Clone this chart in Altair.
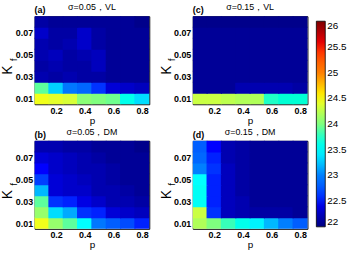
import altair as alt
import pandas as pd

P = [0.1, 0.2, 0.3, 0.4, 0.5, 0.6, 0.7, 0.8]
KF = [0.01, 0.02, 0.03, 0.04, 0.05, 0.06, 0.07, 0.08]

# (a) sigma=0.05, VL   rows: Kf = 0.01 ... 0.08, columns: p = 0.1 ... 0.8
a_k01 = [24.45, 24.4, 24.35, 24.05, 24.0, 23.95, 23.6, 23.35]
a_k02 = [23.9, 23.3, 22.95, 22.85, 22.6, 22.35, 22.3, 22.25]
a_k03 = [22.2, 22.15, 22.2, 22.15, 22.15, 22.1, 22.1, 22.1]
a_k04 = [22.15, 22.2, 22.15, 22.15, 22.25, 22.1, 22.1, 22.1]
a_k05 = [22.2, 22.25, 22.15, 22.2, 22.25, 22.1, 22.1, 22.1]
a_k06 = [22.2, 22.15, 22.2, 22.3, 22.15, 22.1, 22.1, 22.1]
a_k07 = [22.3, 22.15, 22.15, 22.3, 22.15, 22.1, 22.1, 22.1]
a_k08 = [22.15, 22.1, 22.1, 22.1, 22.1, 22.1, 22.1, 22.05]

# (b) sigma=0.05, DM
b_k01 = [24.45, 24.1, 23.9, 23.5, 22.95, 22.8, 22.7, 22.55]
b_k02 = [24.1, 23.35, 23.15, 22.6, 22.55, 22.35, 22.3, 22.25]
b_k03 = [23.9, 22.6, 22.55, 22.4, 22.3, 22.2, 22.2, 22.15]
b_k04 = [23.2, 22.35, 22.3, 22.3, 22.2, 22.2, 22.15, 22.1]
b_k05 = [22.65, 22.35, 22.3, 22.25, 22.2, 22.15, 22.1, 22.1]
b_k06 = [22.5, 22.3, 22.25, 22.2, 22.2, 22.15, 22.1, 22.1]
b_k07 = [22.35, 22.3, 22.25, 22.2, 22.15, 22.1, 22.1, 22.1]
b_k08 = [22.2, 22.2, 22.15, 22.15, 22.1, 22.1, 22.1, 22.05]

# (c) sigma=0.15, VL
c_k01 = [24.3, 24.3, 24.25, 24.2, 24.2, 23.75, 23.7, 23.7]
c_k02 = [22.1, 22.1, 22.1, 22.2, 22.2, 22.2, 22.2, 22.15]
c_k03 = [22.1, 22.1, 22.1, 22.1, 22.1, 22.1, 22.1, 22.1]
c_k04 = [22.1, 22.1, 22.1, 22.1, 22.1, 22.1, 22.1, 22.1]
c_k05 = [22.1, 22.1, 22.1, 22.1, 22.1, 22.1, 22.1, 22.1]
c_k06 = [22.1, 22.1, 22.1, 22.1, 22.1, 22.1, 22.1, 22.1]
c_k07 = [22.1, 22.1, 22.1, 22.1, 22.1, 22.1, 22.1, 22.1]
c_k08 = [22.05, 22.05, 22.05, 22.05, 22.05, 22.05, 22.05, 22.05]

# (d) sigma=0.15, DM
d_k01 = [24.2, 24.0, 23.8, 23.6, 23.45, 23.2, 23.0, 22.8]
d_k02 = [24.3, 22.6, 22.25, 22.2, 22.15, 22.15, 22.15, 22.1]
d_k03 = [23.55, 22.55, 22.25, 22.2, 22.1, 22.1, 22.1, 22.1]
d_k04 = [23.55, 22.55, 22.25, 22.15, 22.1, 22.1, 22.1, 22.1]
d_k05 = [23.5, 22.55, 22.25, 22.15, 22.1, 22.1, 22.1, 22.1]
d_k06 = [23.0, 22.6, 22.25, 22.15, 22.1, 22.1, 22.1, 22.1]
d_k07 = [22.85, 22.55, 22.2, 22.15, 22.1, 22.1, 22.1, 22.1]
d_k08 = [22.8, 22.5, 22.2, 22.15, 22.1, 22.1, 22.1, 22.1]

X_TICKS = [0.2, 0.4, 0.6, 0.8]
Y_TICKS = [0.01, 0.03, 0.05, 0.07]
CBAR_TICKS = [22, 22.5, 23, 23.5, 24, 24.5, 25, 25.5, 26]

JET = ["#00007F", "#0000FF", "#007FFF", "#00FFFF", "#7FFF7F",
       "#FFFF00", "#FF7F00", "#FF0000", "#7F0000"]

FONT = "Liberation Sans"

# half cell size (slightly larger than half the grid step so neighbouring cells overlap by ~1px, no seams)
HX = 0.054
HY = 0.0055


def table(rows):
    recs = []
    for k, row in zip(KF, rows):
        for p, v in zip(P, row):
            recs.append({"x0": p - HX, "x1": p + HX,
                         "y0": k - HY, "y1": k + HY, "v": v})
    return pd.DataFrame(recs)


cscale = alt.Scale(domain=[22, 26], range=JET)
legend = alt.Legend(title=None, orient="none", legendX=285, legendY=5,
                    type="gradient",
                    direction="vertical", gradientLength=208,
                    gradientThickness=9, values=CBAR_TICKS,
                    format=".3~g", labelOverlap=False,
                    labelFontSize=10, labelFont=FONT, labelColor="black",
                    gradientStrokeColor="black", gradientStrokeWidth=0.8,
                    labelOffset=2)


def panel(rows, title, tag):
    df = table(rows)
    heat = alt.Chart(df).mark_rect(clip=True).encode(
        x=alt.X("x0:Q", scale=alt.Scale(domain=[0.05, 0.85], nice=False, zero=False),
                axis=alt.Axis(values=X_TICKS, format=".1f", title="p",
                              grid=False, ticks=False, domain=False,
                              labelFontSize=9, labelFontWeight="bold",
                              labelPadding=2, titleFontSize=10,
                              titleFontWeight="normal", titlePadding=0,
                              labelFont=FONT, titleFont=FONT)),
        x2="x1:Q",
        y=alt.Y("y0:Q", scale=alt.Scale(domain=[0.005, 0.085], nice=False, zero=False),
                axis=alt.Axis(values=Y_TICKS, format=".2f", title="K",
                              grid=False, ticks=False, domain=False,
                              labelFontSize=9, labelFontWeight="bold",
                              labelPadding=2, titleFontSize=14,
                              titleFontWeight="normal",
                              titleX=-20, titleY=54, titleBaseline="bottom",
                              labelFont=FONT, titleFont=FONT)),
        y2="y1:Q",
        color=alt.Color("v:Q", scale=cscale, legend=legend),
    )
    lab = pd.DataFrame({"t": [tag]})
    tagtext = alt.Chart(lab).mark_text(
        align="left", baseline="bottom", fontSize=9, fontWeight="bold",
        font=FONT, color="black").encode(
        text="t:N", x=alt.value(0), y=alt.value(-1))
    sub = pd.DataFrame({"t": ["f"]})
    subtext = alt.Chart(sub).mark_text(
        angle=270, fontSize=9, font=FONT, color="black").encode(
        text="t:N", x=alt.value(-21), y=alt.value(44))
    return alt.layer(heat, tagtext, subtext).properties(
        width=116, height=89,
        title=alt.TitleParams(title, fontSize=9, fontWeight="normal",
                              font=FONT, offset=-6, color="black"))


pa = panel([a_k01, a_k02, a_k03, a_k04, a_k05, a_k06, a_k07, a_k08], "σ=0.05，VL", "(a)")
pb = panel([b_k01, b_k02, b_k03, b_k04, b_k05, b_k06, b_k07, b_k08], "σ=0.05，DM", "(b)")
pc = panel([c_k01, c_k02, c_k03, c_k04, c_k05, c_k06, c_k07, c_k08], "σ=0.15，VL", "(c)")
pd_ = panel([d_k01, d_k02, d_k03, d_k04, d_k05, d_k06, d_k07, d_k08], "σ=0.15，DM", "(d)")

chart = alt.concat(pa, pc, pb, pd_, columns=2, spacing={"row": 37, "column": 44},
                   bounds="flush").properties(
    padding={"left": 0, "top": 1, "right": 0, "bottom": 0},
    background="white",
).configure_view(stroke="black", strokeWidth=1)

chart.save("out.html", embed_options={"renderer": "svg", "actions": False})
